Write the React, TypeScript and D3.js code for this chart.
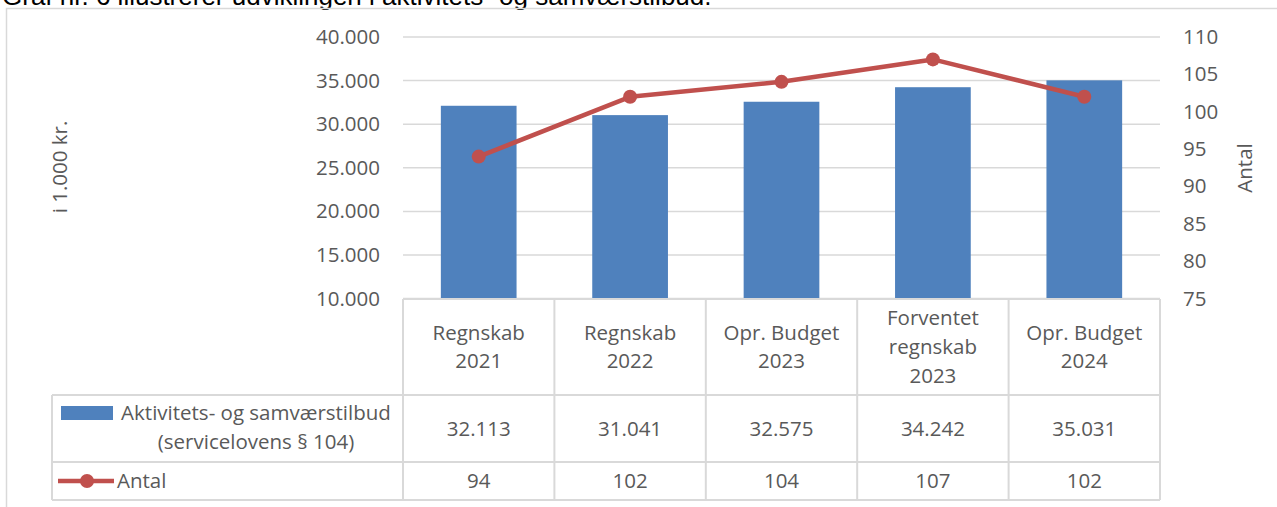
import React from "react";
import * as d3 from "d3";

const categories: string[][] = [
  ["Regnskab", "2021"],
  ["Regnskab", "2022"],
  ["Opr. Budget", "2023"],
  ["Forventet", "regnskab", "2023"],
  ["Opr. Budget", "2024"],
];
const barValues = [32113, 31041, 32575, 34242, 35031];
const lineValues = [94, 102, 104, 107, 102];
const leftTicks = [10000, 15000, 20000, 25000, 30000, 35000, 40000];
const rightTicks = [75, 80, 85, 90, 95, 100, 105, 110];
const barSeriesName = ["Aktivitets- og samværstilbud", "(servicelovens § 104)"];
const lineSeriesName = "Antal";
const leftTitle = "i 1.000 kr.";
const rightTitle = "Antal";
const titleText = "Graf nr. 6 illustrerer udviklingen i aktivitets- og samværstilbud.";

const W = 1277;
const H = 507;
const BLUE = "#4F81BD";
const RED = "#C0504D";
const GRID = "#D9D9D9";
const TXT = "#595959";
const FONT = "'Open Sans', sans-serif";
const FS = 20.5;

const locale = d3.formatLocale({ decimal: ",", thousands: ".", grouping: [3], currency: ["", ""] });
const fmt = locale.format(",.0f");

export default function App() {
  const keys = categories.map((c) => c.join(" "));
  const plotL = 403;
  const plotR = 1160;
  const plotT = 37;
  const plotB = 298.6;

  const x = d3.scaleBand<string>().domain(keys).range([plotL, plotR]).paddingInner(0.5).paddingOuter(0.25);
  const yL = d3.scaleLinear().domain([10000, 40000]).range([plotB, plotT]);
  const yR = d3.scaleLinear().domain([75, 110]).range([plotB, plotT]);
  const step = x.step();
  const colEdges = d3.range(keys.length + 1).map((i) => plotL + i * step);

  const tableTop = 299;
  const row1 = 395;
  const row2 = 462;
  const tableBot = 500;
  const legL = 52;

  const line = d3
    .line<number>()
    .x((_, i) => (x(keys[i]) as number) + x.bandwidth() / 2)
    .y((d) => yR(d));

  return (
    <svg width={W} height={H} style={{ position: "absolute", left: 0, top: 0, background: "#fff" }} fontFamily={FONT}>
      <text x={2} y={5} fontFamily="'Liberation Sans', Arial, sans-serif" fontSize={26} fill="#000">
        {titleText}
      </text>
      {/* chart border */}
      <rect x={6.5} y={8.5} width={W + 10} height={H + 10} fill="none" stroke={GRID} strokeWidth={1.5} />

      {/* gridlines */}
      {leftTicks.map((t) => (
        <line key={t} x1={plotL} x2={plotR} y1={yL(t)} y2={yL(t)} stroke={GRID} strokeWidth={1.5} />
      ))}

      {/* left ticks */}
      {leftTicks.map((t) => (
        <text key={"l" + t} x={380} y={yL(t) + 7} textAnchor="end" fontSize={FS} fill={TXT}>
          {fmt(t)}
        </text>
      ))}
      {/* right ticks */}
      {rightTicks.map((t) => (
        <text key={"r" + t} x={1183} y={yR(t) + 7} textAnchor="start" fontSize={FS} fill={TXT}>
          {t}
        </text>
      ))}

      {/* axis titles */}
      <text transform={`translate(67,167) rotate(-90)`} textAnchor="middle" fontSize={FS} fill={TXT}>
        {leftTitle}
      </text>
      <text transform={`translate(1252,168) rotate(-90)`} textAnchor="middle" fontSize={FS} fill={TXT}>
        {rightTitle}
      </text>

      {/* bars */}
      {barValues.map((v, i) => (
        <rect
          key={"b" + i}
          x={x(keys[i])}
          y={yL(v)}
          width={x.bandwidth()}
          height={yL(10000) - yL(v)}
          fill={BLUE}
        />
      ))}

      {/* line */}
      <path d={line(lineValues) || ""} fill="none" stroke={RED} strokeWidth={4.5} strokeLinejoin="round" />
      {lineValues.map((v, i) => (
        <circle key={"c" + i} cx={(x(keys[i]) as number) + x.bandwidth() / 2} cy={yR(v)} r={7} fill={RED} />
      ))}

      {/* data table */}
      <g stroke={GRID} strokeWidth={2} fill="none">
        <line x1={plotL} x2={plotR} y1={tableTop} y2={tableTop} />
        <line x1={legL} x2={plotR} y1={row1} y2={row1} />
        <line x1={legL} x2={plotR} y1={row2} y2={row2} />
        <line x1={legL} x2={plotR} y1={tableBot} y2={tableBot} />
        <line x1={legL} x2={legL} y1={row1} y2={tableBot} />
        {colEdges.map((cx, i) => (
          <line key={"v" + i} x1={cx} x2={cx} y1={tableTop} y2={tableBot} />
        ))}
      </g>

      {/* category labels */}
      {categories.map((lines, i) => {
        const cx = (x(keys[i]) as number) + x.bandwidth() / 2;
        const lh = 28.7;
        const mid = (tableTop + row1) / 2;
        const first = mid - ((lines.length - 1) * lh) / 2 + 7;
        return (
          <text key={"cat" + i} textAnchor="middle" fontSize={FS} fill={TXT}>
            {lines.map((l, j) => (
              <tspan key={j} x={cx} y={first + j * lh}>
                {l}
              </tspan>
            ))}
          </text>
        );
      })}

      {/* values rows */}
      {barValues.map((v, i) => (
        <text
          key={"bv" + i}
          x={(x(keys[i]) as number) + x.bandwidth() / 2}
          y={(row1 + row2) / 2 + 7}
          textAnchor="middle"
          fontSize={FS}
          fill={TXT}
        >
          {fmt(v)}
        </text>
      ))}
      {lineValues.map((v, i) => (
        <text
          key={"lv" + i}
          x={(x(keys[i]) as number) + x.bandwidth() / 2}
          y={(row2 + tableBot) / 2 + 7}
          textAnchor="middle"
          fontSize={FS}
          fill={TXT}
        >
          {v}
        </text>
      ))}

      {/* legend keys */}
      <rect x={61} y={406} width={52} height={14} fill={BLUE} />
      <text textAnchor="middle" fontSize={FS} fill={TXT}>
        <tspan x={256} y={420}>
          {barSeriesName[0]}
        </tspan>
        <tspan x={256} y={449}>
          {barSeriesName[1]}
        </tspan>
      </text>
      <line x1={58} x2={114} y1={481} y2={481} stroke={RED} strokeWidth={4.5} />
      <circle cx={87} cy={481} r={7} fill={RED} />
      <text x={117} y={488} fontSize={FS} fill={TXT}>
        {lineSeriesName}
      </text>
    </svg>
  );
}
